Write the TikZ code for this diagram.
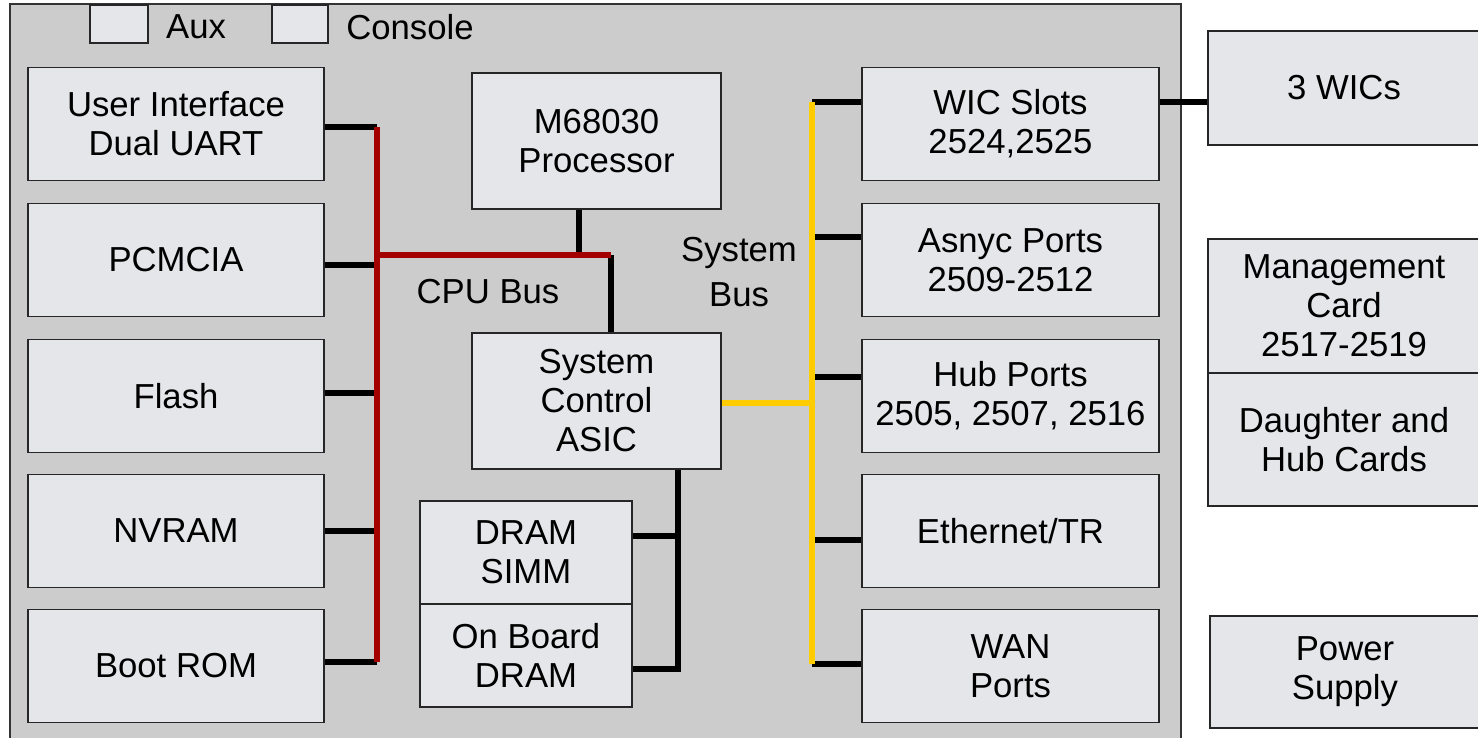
\documentclass[tikz,border=0pt]{standalone}
\usepackage{fontspec}
\setmainfont{Liberation Sans}
\definecolor{bg}{HTML}{CCCCCC}
\definecolor{boxfill}{HTML}{E5E6EA}
\definecolor{cpured}{HTML}{A30000}
\definecolor{sysyellow}{HTML}{FFCC00}
\begin{document}
\begin{tikzpicture}[x=1pt,y=-1pt,
  blk/.style={draw=black!85, line width=1.3pt, fill=boxfill, align=center,
    font=\fontsize{34.7}{39}\selectfont, inner sep=1pt},
  lbl/.style={align=center, font=\fontsize{34.7}{39}\selectfont, inner sep=0pt},
  wire/.style={line width=5.2pt, draw=black},
  redbus/.style={line width=5.2pt, draw=cpured},
  yelbus/.style={line width=5.2pt, draw=sysyellow}]
\useasboundingbox (0,0) rectangle (1478,737);
\fill[white] (0,0) rectangle (1478,737);
\draw[fill=bg, line width=1.5pt, draw=black!80] (10,4) rectangle (1181,745);

% ports on top
\node[blk, minimum width=58pt, minimum height=38pt] (auxport) at (119,24) {};
\node[blk, minimum width=56pt, minimum height=38pt] (conport) at (300,24) {};
\node[lbl] (auxlbl) at (196,27) {Aux};
\node[lbl] (conlbl) at (410,27) {Console};

% left column
\foreach \n/\y/\t in {ui/124/{User Interface\\Dual UART}, pcmcia/260/PCMCIA, flash/396/Flash, nvram/531/NVRAM, boot/666/Boot ROM}
  \node[blk, minimum width=296pt, minimum height=113pt] (\n) at (176,\y) {\t};

% centre
\node[blk, minimum width=249pt, minimum height=136pt] (cpu) at (596.5,141) {M68030\\Processor};
\node[blk, minimum width=249pt, minimum height=136pt] (asic) at (596.5,401) {System\\Control\\ASIC};
\node[blk, minimum width=212pt, minimum height=103pt] (simm) at (526,552.5) {DRAM\\SIMM};
\node[blk, minimum width=212pt, minimum height=103pt] (onboard) at (526,655.5) {On Board\\DRAM};

% right column
\foreach \n/\y/\t in {wic/124/{WIC Slots\\2524,2525}, async/260/{Asnyc Ports\\2509-2512}, hub/396/{Hub Ports\\2505, 2507, 2516}, eth/531/{Ethernet/TR}, wan/666/{WAN\\Ports}}
  \node[blk, minimum width=297pt, minimum height=113pt] (\n) at (1010.5,\y) {\t};

% outside
\node[blk, minimum width=272pt, minimum height=114pt] (wics) at (1344,88) {3 WICs};
\node[blk, minimum width=272pt, minimum height=134pt] (mgmt) at (1344,306) {Management\\Card\\2517-2519};
\node[blk, minimum width=272pt, minimum height=133pt] (daughter) at (1344,439.5) {Daughter and\\Hub Cards};
\node[blk, minimum width=270pt, minimum height=112pt] (power) at (1345,672) {Power\\Supply};

% labels
\node[lbl] (cpubuslbl) at (488,292) {CPU Bus};
\node[lbl, font=\fontsize{34.7}{45}\selectfont] (sysbuslbl) at (739,272) {System\\Bus};

% CPU bus
\coordinate (r1) at (377,127);
\coordinate (r2) at (377,265);
\coordinate (r3) at (377,393);
\coordinate (r4) at (377,531);
\coordinate (r5) at (377,662);
\coordinate (rj) at (377,255);
\coordinate (pj) at (579,255);
\coordinate (aj) at (611,255);
\draw[wire] (ui.east |- r1) -- (r1);
\draw[wire] (pcmcia.east |- r2) -- (r2);
\draw[wire] (flash.east |- r3) -- (r3);
\draw[wire] (nvram.east |- r4) -- (r4);
\draw[wire] (boot.east |- r5) -- (r5);
\draw[wire] (cpu.south -| pj) -- (pj);
\draw[wire] (aj) -- (asic.north -| aj);
\draw[redbus] (r1) -- (r5);
\draw[redbus] (rj) -- (aj);

% memory link
\coordinate (m0) at (678,401);
\coordinate (m1) at (678,536);
\coordinate (m2) at (678,669);
\draw[wire] (asic.south -| m0) -- (m2) -- (onboard.east |- m2);
\draw[wire] (m1) -- (simm.east |- m1);

% system bus
\coordinate (y0) at (812,403);
\coordinate (y1) at (812,102);
\coordinate (y2) at (812,237);
\coordinate (y3) at (812,377);
\coordinate (y4) at (812,540);
\coordinate (y5) at (812,664);
\draw[wire] (y1) -- (wic.west |- y1);
\draw[wire] (y2) -- (async.west |- y2);
\draw[wire] (y3) -- (hub.west |- y3);
\draw[wire] (y4) -- (eth.west |- y4);
\draw[wire] (y5) -- (wan.west |- y5);
\draw[yelbus] (asic.east |- y0) -- (y0);
\draw[yelbus] (y1) -- (y5);

% WIC link
\draw[wire] (wic.east |- y1) -- (wics.west |- y1);
\end{tikzpicture}
\end{document}
